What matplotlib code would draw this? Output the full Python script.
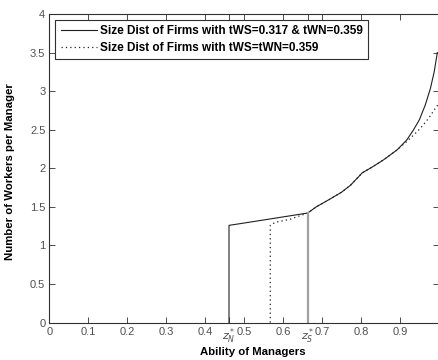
import matplotlib
matplotlib.use("Agg")
import matplotlib.pyplot as plt

plt.rcParams['font.family'] = ['Liberation Sans', 'DejaVu Sans']

# firm size distribution, tWS=0.317 & tWN=0.359
ability_diff = [0.461, 0.461, 0.55, 0.663, 0.685, 0.72, 0.75, 0.773, 0.803, 0.83,
                0.858, 0.893, 0.918, 0.935, 0.95, 0.965, 0.978, 0.988, 0.996]
workers_diff = [0.0, 1.26, 1.33, 1.42, 1.50, 1.60, 1.69, 1.78, 1.94, 2.02,
                2.11, 2.24, 2.37, 2.50, 2.63, 2.82, 3.03, 3.25, 3.50]

# firm size distribution, tWS=tWN=0.359
ability_same = [0.567, 0.567, 0.58, 0.618, 0.663, 0.685, 0.72, 0.75, 0.773, 0.803,
                0.83, 0.858, 0.893, 0.918, 0.935, 0.953, 0.974, 0.987, 0.997]
workers_same = [0.0, 1.26, 1.30, 1.34, 1.42, 1.50, 1.60, 1.69, 1.78, 1.94,
                2.02, 2.11, 2.24, 2.35, 2.43, 2.52, 2.65, 2.75, 2.82]

# cutoff abilities
z_s = 0.663
z_s_height = 1.42
z_n = 0.461

xticks = [0, 0.1, 0.2, 0.3, 0.4, z_n, 0.5, 0.6, z_s, 0.7, 0.8, 0.9]
xticklabels = ['0', '0.1', '0.2', '0.3', '0.4', r'$z^*_N$', '0.5', '0.6', r'$z^*_S$', '0.7', '0.8', '0.9']
yticks = [0, 0.5, 1, 1.5, 2, 2.5, 3, 3.5, 4]
yticklabels = ['0', '0.5', '1', '1.5', '2', '2.5', '3', '3.5', '4']

fig = plt.figure(figsize=(4.38, 3.6), dpi=100)
ax = fig.add_axes([0.113, 0.104, 0.889, 0.857])

ax.plot(ability_diff, workers_diff, color='#202020', lw=0.8,
        label='Size Dist of Firms with tWS=0.317 & tWN=0.359')
ax.plot(ability_same, workers_same, color='#202020', lw=0.9, linestyle=(0, (1, 2.5)),
        label='Size Dist of Firms with tWS=tWN=0.359')
ax.plot([z_s, z_s], [0, z_s_height], color='#a0a0a0', lw=1.6)

ax.set_xlim(0, 1)
ax.set_ylim(0, 4)
ax.set_xticks(xticks)
ax.set_xticklabels(xticklabels)
ax.set_yticks(yticks)
ax.set_yticklabels(yticklabels)
ax.tick_params(direction='in', length=4, width=0.6, top=True, right=True,
               labelsize=8, labelcolor='#505050', color='#303030', pad=3)
for s in ax.spines.values():
    s.set_linewidth(0.8)
    s.set_color('#303030')

ax.set_xlabel('Ability of Managers', fontsize=8.2, fontweight='bold')
ax.xaxis.set_label_coords(0.523, -0.078)
ax.set_ylabel('Number of Workers per Manager', fontsize=8.2, fontweight='bold')
ax.yaxis.set_label_coords(-0.088, 0.49)

leg = ax.legend(loc='upper left', prop={'weight': 'bold', 'size': 8.5},
                frameon=True, fancybox=False, framealpha=1, edgecolor='#303030',
                borderpad=0.45, handlelength=3.1, handletextpad=0.25, labelspacing=0.4,
                borderaxespad=0.5)
leg.get_frame().set_linewidth(0.8)

fig.savefig('out.png', dpi=100)
